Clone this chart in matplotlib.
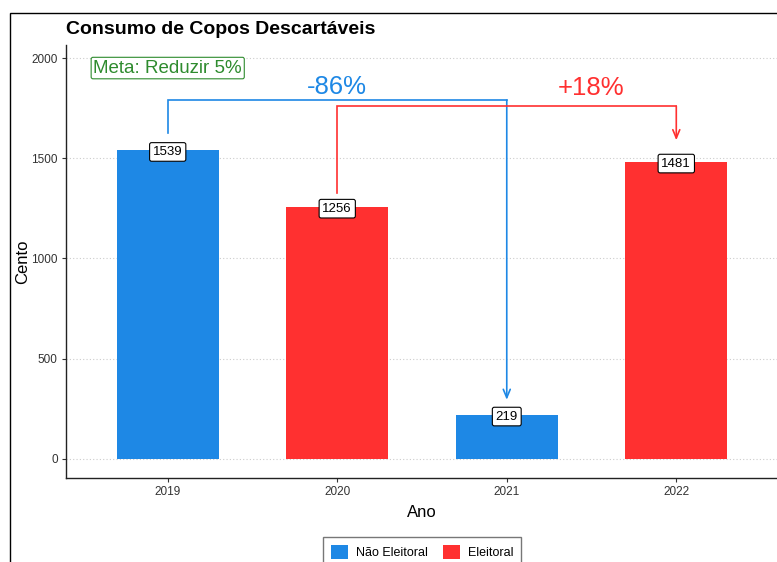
import matplotlib
matplotlib.use("Agg")
import matplotlib.pyplot as plt
from matplotlib.patches import Rectangle, Patch

plt.rcParams["font.family"] = ["Liberation Sans", "DejaVu Sans"]

# Data
anos = ["2019", "2020", "2021", "2022"]
valores = [1539, 1256, 219, 1481]
tipos = ["Não Eleitoral", "Eleitoral", "Não Eleitoral", "Eleitoral"]
cores = {"Não Eleitoral": "#1E88E5", "Eleitoral": "#FF3030"}

# Comparison arrows
comp_from = [0, 1]
comp_to = [2, 3]
comp_start = [1625, 1325]
comp_top = [1790, 1760]
comp_end = [295, 1590]
comp_labels = ["-86%", "+18%"]
comp_label_x = [1.0, 2.5]
comp_label_y = [1855, 1850]
comp_colors = ["#1E88E5", "#FF3030"]

meta_text = "Meta: Reduzir 5%"
meta_x, meta_y = 0.0, 1950

yticks = [0, 500, 1000, 1500, 2000]

W, H = 777, 562
fig = plt.figure(figsize=(W / 100, H / 100), dpi=100)
fig.patch.set_facecolor("white")

ax = fig.add_axes([66 / W, 1 - 478 / H, (778 - 66) / W, (478 - 45) / H])
x = list(range(len(anos)))
ax.bar(x, valores, width=0.6, color=[cores[t] for t in tipos], zorder=2)
ax.set_xlim(-0.6, len(anos) - 1 + 0.6)
ax.set_ylim(-95, 2065)
ax.set_xticks(x)
ax.set_xticklabels(anos, fontsize=8.5, color="#333333")
ax.set_yticks(yticks)
ax.set_yticklabels([str(v) for v in yticks], fontsize=8.5, color="#333333")
ax.tick_params(axis="both", length=3, width=0.8, color="#333333", pad=3)
for s in ["top", "right"]:
    ax.spines[s].set_visible(False)
for s in ["left", "bottom"]:
    ax.spines[s].set_color("#222222")
    ax.spines[s].set_linewidth(1.0)
ax.yaxis.grid(True, linestyle=(0, (1, 2)), color="#cccccc", linewidth=0.8, zorder=0)
ax.set_axisbelow(True)

ax.set_xlabel("Ano", fontsize=12, labelpad=5)
ax.set_ylabel("Cento", fontsize=12, labelpad=1)
fig.text(66 / W, 1 - 29 / H, "Consumo de Copos Descartáveis", fontsize=14,
         fontweight="bold", ha="left", va="center")

# value labels
for xi, v in zip(x, valores):
    ax.text(xi, v, str(v), ha="center", va="center_baseline", fontsize=9.5, zorder=5,
            bbox=dict(boxstyle="round,pad=0.25,rounding_size=0.15", fc="white",
                      ec="black", lw=0.8))

# comparison arrows
for f, t, ys, yt, ye, lab, lx, ly, c in zip(comp_from, comp_to, comp_start, comp_top,
                                             comp_end, comp_labels, comp_label_x,
                                             comp_label_y, comp_colors):
    ax.plot([f, f, t], [ys, yt, yt], color=c, lw=1.2, zorder=4, solid_joinstyle="miter")
    ax.annotate("", xy=(t, ye), xytext=(t, yt),
                arrowprops=dict(arrowstyle="->,head_length=0.6,head_width=0.25",
                                color=c, lw=1.2, shrinkA=0, shrinkB=0), zorder=4)
    ax.text(lx, ly, lab, color=c, fontsize=18.5, ha="center", va="center", zorder=5)

ax.text(meta_x, meta_y, meta_text, color="#2E8B2E", fontsize=13.5, ha="center",
        va="center", zorder=5,
        bbox=dict(boxstyle="round,pad=0.12,rounding_size=0.1", fc="white", ec="#2E8B2E", lw=0.8))

# legend
handles = [Patch(facecolor=cores[k], edgecolor="none", label=k) for k in ["Não Eleitoral", "Eleitoral"]]
leg = fig.legend(handles=handles, loc="upper center", bbox_to_anchor=(422 / W, 1 - 531 / H),
                 ncol=2, frameon=True, fontsize=9, handlelength=1.4, handleheight=1.4,
                 columnspacing=1.2, handletextpad=0.6, borderpad=0.6, fancybox=False)
leg.get_frame().set_edgecolor("#555555")
leg.get_frame().set_linewidth(1.0)

# figure border (cropped)
fig.add_artist(Rectangle((10 / W, -0.2), 1.2, 0.2 + (1 - 13 / H), transform=fig.transFigure,
                         fill=False, ec="black", lw=1.0))

fig.savefig("out.png", dpi=100)
